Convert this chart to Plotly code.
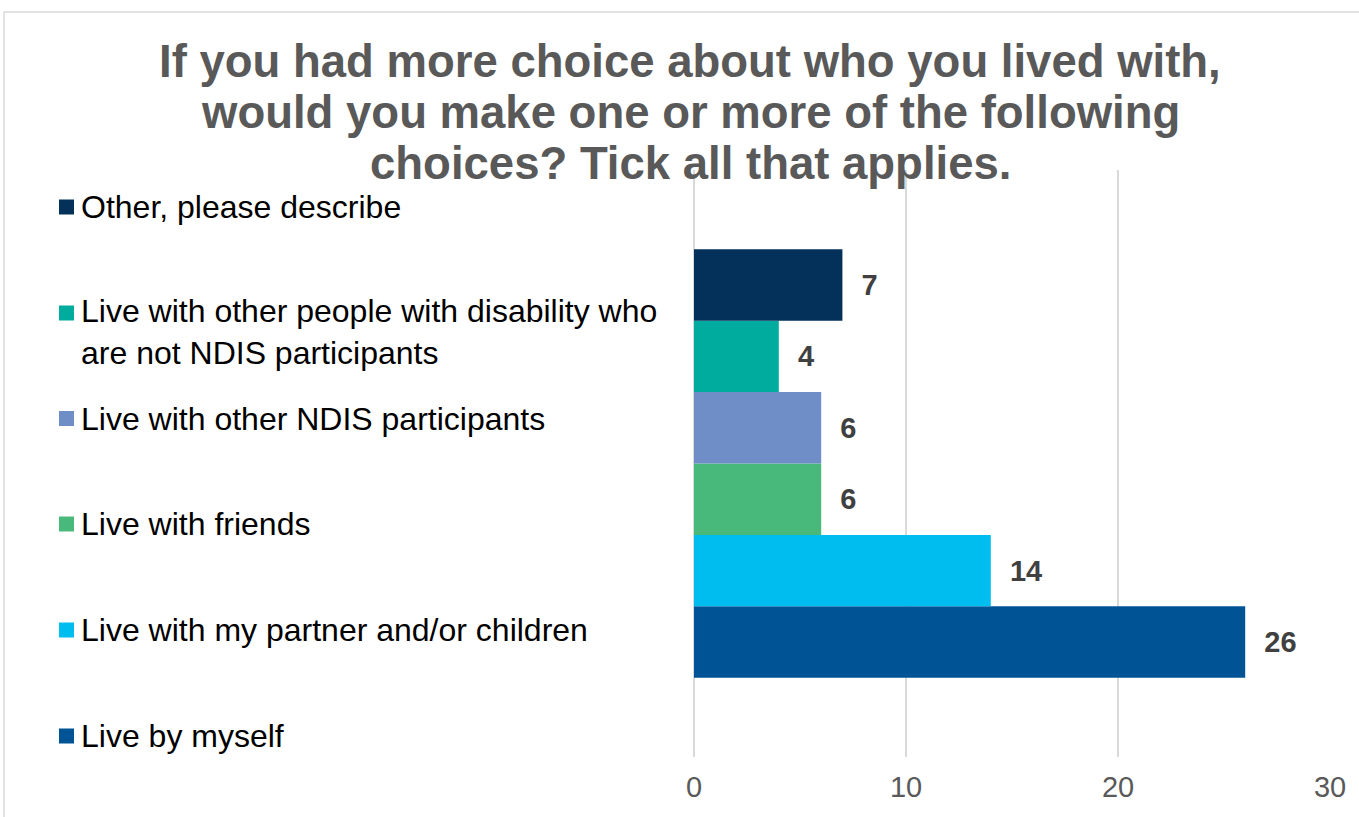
import plotly.graph_objects as go

# ---------------- data ----------------
categories = [
    "Other, please describe",
    "Live with other people with disability who<br>are not NDIS participants",
    "Live with other NDIS participants",
    "Live with friends",
    "Live with my partner and/or children",
    "Live by myself",
]
values = [7, 4, 6, 6, 14, 26]
colors = ["#03315A", "#00AC9D", "#6F8DC7", "#48B97B", "#00BDF0", "#005496"]
x_ticks = [0, 10, 20, 30]
title_lines = [
    "If you had more choice about who you lived with,",
    "would you make one or more of the following",
    "choices? Tick all that applies.",
]

W, H = 1359, 817


def px(x):
    return x / W


def py(y):
    return 1 - y / H


FONT = "Liberation Sans, Arial, sans-serif"

fig = go.Figure()
# plotly draws the first grouped trace at the bottom, so add them bottom-up
for name, val, col in reversed(list(zip(categories, values, colors))):
    fig.add_trace(go.Bar(
        y=["Responses"], x=[val], orientation="h", name=name.replace("<br>", " "),
        marker=dict(color=col, line=dict(width=0)),
        text=[val], texttemplate="\u00a0\u00a0%{x}", textposition="outside",
        textfont=dict(family=FONT, size=29, color="#404040", weight="bold"),
        cliponaxis=False, showlegend=False,
    ))

annotations = []
shapes = []

# title (three centred lines, tight line spacing as in the reference)
for line, yc in zip(title_lines, [62, 112, 163]):
    annotations.append(dict(
        xref="paper", yref="paper", x=px(690), y=py(yc),
        xanchor="center", yanchor="middle", showarrow=False,
        text=line, font=dict(family=FONT, size=45.5, color="#595959", weight="bold")))

# manual legend (squares + labels) on the left
legend_centers = [207, 313, 418.5, 524, 630, 736]
for name, col, yc in zip(categories, colors, legend_centers):
    shapes.append(dict(type="rect", xref="paper", yref="paper",
                       x0=px(59), x1=px(74), y0=py(yc + 7.5), y1=py(yc - 7.5),
                       fillcolor=col, line=dict(width=0)))
    nlines = name.count("<br>") + 1
    annotations.append(dict(
        xref="paper", yref="paper", x=px(79), y=py(yc + (nlines - 1) * 19),
        xanchor="left", yanchor="middle", align="left", showarrow=False,
        text=name, font=dict(family=FONT, size=32, color="#000000")))

# chart border
shapes.append(dict(type="rect", xref="paper", yref="paper",
                   x0=px(4), x1=px(1370), y0=py(830), y1=py(12),
                   line=dict(color="#D9D9D9", width=1.5), fillcolor="rgba(0,0,0,0)",
                   layer="below"))

fig.update_layout(
    width=W, height=H, autosize=False,
    margin=dict(l=0, r=0, t=0, b=0, pad=0, autoexpand=False),
    paper_bgcolor="white", plot_bgcolor="white",
    barmode="group", bargap=0.27, bargroupgap=0,
    xaxis=dict(domain=[px(694), px(1330)], range=[0, 30], tickvals=x_ticks,
               automargin=False,
               showgrid=True, gridcolor="#D9D9D9", gridwidth=1.5,
               zeroline=True, zerolinecolor="#D9D9D9", zerolinewidth=1.5,
               showline=False, ticks="", ticklabelstandoff=10,
               tickfont=dict(family=FONT, size=29, color="#595959")),
    yaxis=dict(domain=[py(757), py(170)], showticklabels=False, showgrid=False,
               automargin=False,
               zeroline=False, showline=False, ticks=""),
    annotations=annotations, shapes=shapes,
    showlegend=False,
)

fig.write_html(
    "out.html",
    config={"responsive": False, "displayModeBar": False},
    post_script="document.body.style.margin='0px';document.body.style.overflow='hidden';",
)
